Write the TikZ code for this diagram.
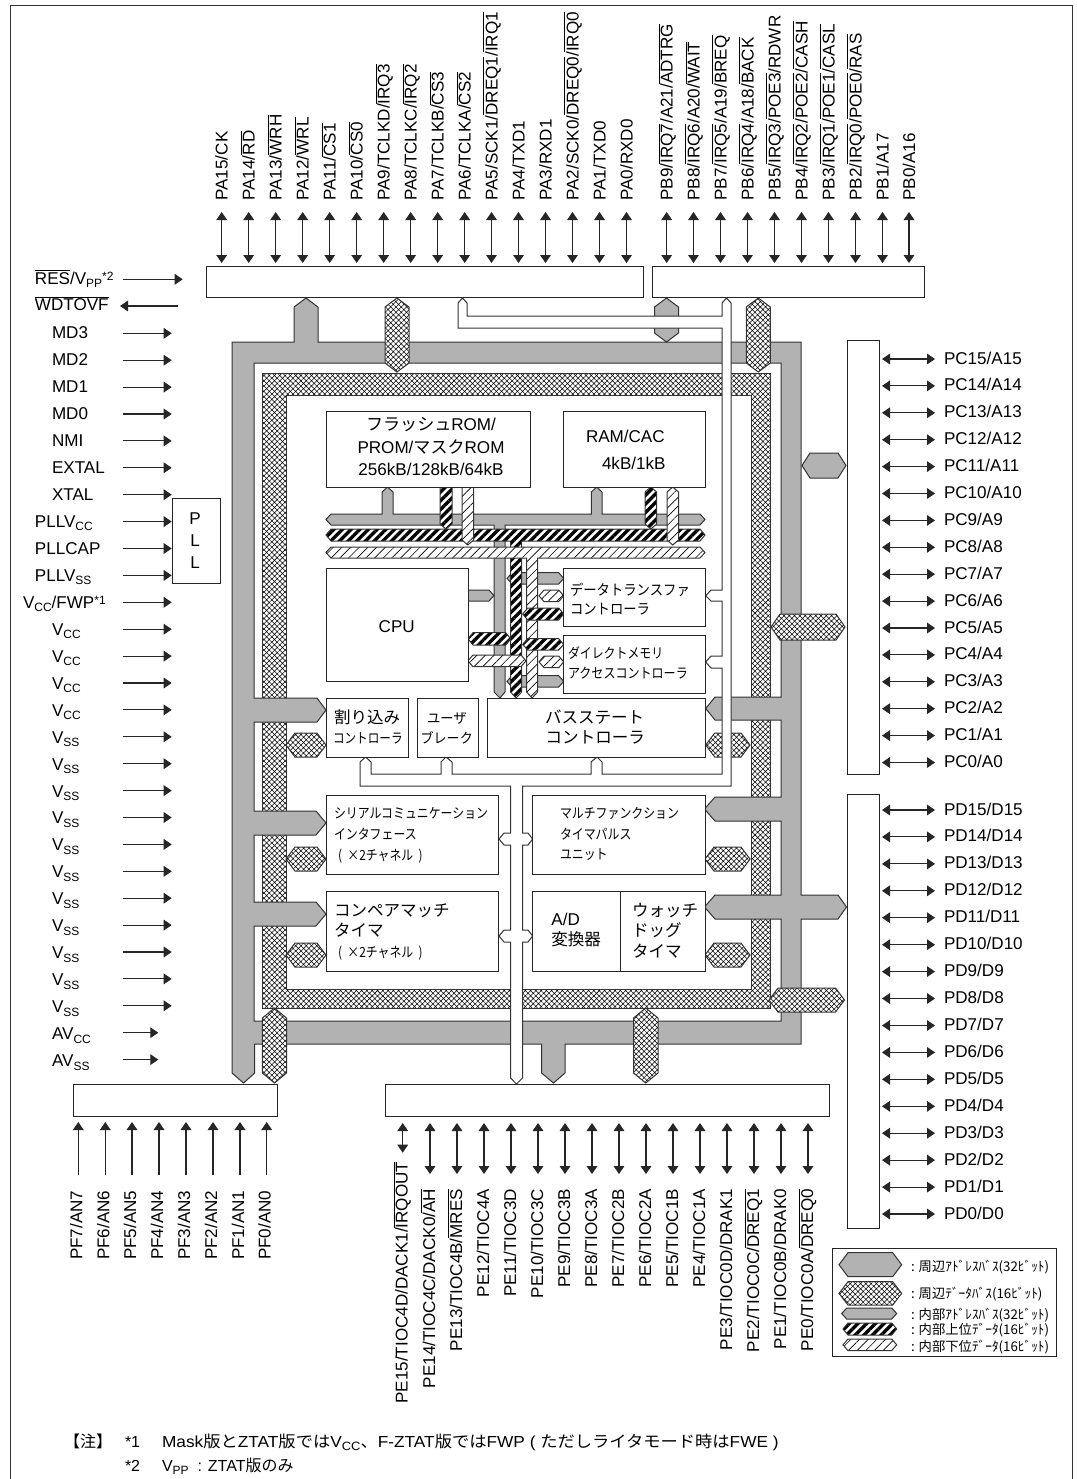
\documentclass[tikz,border=0pt]{standalone}
\usepackage{graphicx}
\usepackage{fontspec}
\setmainfont{Liberation Sans}
\newfontfamily\cjk{Noto Sans CJK JP}
\usetikzlibrary{arrows.meta,patterns.meta}
\definecolor{busgray}{HTML}{B2B2B2}
\definecolor{edge}{HTML}{333333}
\newcommand\J[1]{{\cjk #1}}
% size(pt), horizontal scale, text
\newcommand\jp[3]{\scalebox{#2}[1]{\fontsize{#1}{#1}\selectfont\cjk #3}}
\newcommand\ol[1]{$\overline{\hbox{#1}}$}
\newcommand\subt[1]{\raisebox{-2.6pt}{\fontsize{9}{9}\selectfont #1}}
\newcommand\supt[1]{\raisebox{3pt}{\fontsize{9}{9}\selectfont #1}}
\tikzset{
  x=.75pt,y=-.75pt,
  lw/.style={line width=.75pt},
  graybus/.style={lw,draw=edge,fill=busgray},
  crossbus/.style={lw,draw=edge,preaction={fill=white},pattern={Hatch[angle=45,distance=2.8pt,line width=.4pt]},pattern color=black},
  hibus/.style={lw,draw=edge,preaction={fill=white},pattern={Lines[angle=45,distance=4.6pt,line width=2.5pt]},pattern color=black},
  lobus/.style={lw,draw=edge,preaction={fill=white},pattern={Lines[angle=45,distance=4.6pt,line width=.5pt]},pattern color=black},
  whitebus/.style={lw,draw=edge,fill=white},
  modbox/.style={lw,draw=black!85,fill=white,inner sep=0pt,outer sep=0pt},
  txt/.style={inner sep=0pt,outer sep=0pt,font=\fontsize{12.8}{12.8}\selectfont,anchor=base west},
  vlab/.style={inner sep=0pt,outer sep=0pt,font=\fontsize{12.8}{12.8}\selectfont,rotate=90},
  pinline/.style={line width=.8pt,draw=black!85},
  dbl/.style={{Triangle[length=6pt,width=8pt]}-{Triangle[length=6pt,width=8pt]}},
  sgl/.style={-{Triangle[length=6pt,width=8pt]}},
  rsgl/.style={{Triangle[length=6pt,width=8pt]}-},
}
% module rectangle: name x1 y1 x2 y2
\newcommand\modrect[5]{\node[modbox,minimum width={(#4-#2)*.75pt},minimum height={(#5-#3)*.75pt}] (#1) at ({(#2+#4)/2},{(#3+#5)/2}) {};}
% horizontal hexagon: style x1 x2 y1 y2 notch
\newcommand\hexH[6]{\draw[#1] (#2,{(#4+#5)/2}) -- ({#2+#6},#4) -- ({#3-#6},#4) -- (#3,{(#4+#5)/2}) -- ({#3-#6},#5) -- ({#2+#6},#5) -- cycle;}
% vertical hexagon: style x1 x2 y1 y2 notch
\newcommand\hexV[6]{\draw[#1] ({(#2+#3)/2},#4) -- (#3,{#4+#6}) -- (#3,{#5-#6}) -- ({(#2+#3)/2},#5) -- (#2,{#5-#6}) -- (#2,{#4+#6}) -- cycle;}
% pins
\newcommand\pinA[3]{\coordinate (#1a) at (#2,212); \coordinate (#1b) at (#2,263); \draw[pinline,dbl] (#1a) -- (#1b); \node[vlab,anchor=base west] (#1) at ({#2+6},200.5) {#3};}
\newcommand\pinE[3]{\coordinate (#1a) at (#2,1123); \coordinate (#1b) at (#2,1174); \draw[pinline,dbl] (#1a) -- (#1b); \node[vlab,anchor=base east] (#1) at ({#2+5},1189) {#3};}
\newcommand\pinF[3]{\coordinate (#1a) at (#2,1175); \coordinate (#1b) at (#2,1122); \draw[pinline,sgl] (#1a) -- (#1b); \node[vlab,anchor=base east] (#1) at ({#2+4},1190.7) {#3};}
\newcommand\pinR[3]{\coordinate (#1a) at (882,#2); \coordinate (#1b) at (935,#2); \draw[pinline,dbl] (#1a) -- (#1b); \node[txt] (#1) at (944,{#2+5}) {#3};}
% left pin: name index labelx endx text
\newcommand\pinL[5]{\coordinate (#1a) at (123,{333.3+26.9*#2}); \coordinate (#1b) at (#4,{333.3+26.9*#2}); \draw[pinline,sgl] (#1a) -- (#1b); \node[txt] (#1) at (#3,{338.5+26.97*#2}) {#5};}
\begin{document}
\begin{tikzpicture}
\useasboundingbox (0,0) rectangle (1077,1479);
\fill[white] (0,0) rectangle (1077,1479);
% frame
\draw[lw,draw=black!80] (10,1479) -- (10,5) -- (1072.7,5) -- (1072.7,1479);

% peripheral data ring
\draw[crossbus,even odd rule] (262,373) rectangle (770,1008) (286,395) rectangle (751.5,989);
% peripheral address ring with its branches
\draw[graybus,even odd rule]
 (232,342) -- (294,342) -- (294,307) -- (306,298) -- (318,307) -- (318,342) -- (801,342) -- (801,895) -- (838,895) -- (846.5,907) -- (838,919) -- (801,919) -- (801,1044) -- (565,1044) -- (565,1073) -- (553.5,1083) -- (541.6,1073) -- (541.6,1044) -- (254.7,1044) -- (254.7,1073) -- (243.5,1083) -- (232,1073) -- cycle
 (254,363) -- (781,363) -- (781,697) -- (715,697) -- (705.7,708.5) -- (715,720) -- (781,720) -- (781,797) -- (715,797) -- (704.5,809) -- (715,821) -- (781,821) -- (781,895) -- (715,895) -- (704.5,907) -- (715,919) -- (781,919) -- (781,1021) -- (254,1021) -- (254,926) -- (316,926) -- (326,914) -- (316,902) -- (254,902) -- (254,835) -- (316,835) -- (326,823) -- (316,811) -- (254,811) -- (254,722) -- (317,722) -- (326,710) -- (317,698) -- (254,698) -- cycle;
\hexV{graybus}{654.5}{678.5}{298}{342}{9}
\hexH{graybus}{802}{846}{453}{478}{8}
% peripheral data branches
\hexV{crossbus}{385}{409}{298}{372}{9}
\hexV{crossbus}{746.3}{770.3}{298}{372}{9}
\hexV{crossbus}{262.4}{286.5}{1008}{1083}{10}
\hexV{crossbus}{633.5}{658}{1008}{1083}{10}
\hexH{crossbus}{771}{845}{614}{640}{9}
\hexH{crossbus}{769}{844.5}{988}{1012}{9}
\hexH{crossbus}{286}{326}{733}{757}{9}
\hexH{crossbus}{286}{326}{847}{871}{9}
\hexH{crossbus}{286}{326}{943}{967}{9}
\hexH{crossbus}{705.7}{750}{733}{757}{9}
\hexH{crossbus}{705}{750}{847}{871}{9}
\hexH{crossbus}{705}{750}{943}{967}{9}

% white control bus
\draw[whitebus] (462.5,298) -- (467,303) -- (467,316) -- (722,316) -- (722,303) -- (726.5,298) -- (731,303) -- (731,786) -- (522.5,786) -- (522.5,833) -- (528,833) -- (532.6,839) -- (528,845) -- (522.5,845) -- (522.5,930) -- (528,930) -- (532.6,936) -- (528,942) -- (522.5,942) -- (522.5,1078) -- (516.5,1084) -- (510.6,1078) -- (510.6,942) -- (504,942) -- (499,936) -- (504,930) -- (510.6,930) -- (510.6,845) -- (504,845) -- (499,839) -- (504,833) -- (510.6,833) -- (510.6,786) -- (360,786) -- (360,762) -- (365.6,757) -- (371,762) -- (371,774) -- (441,774) -- (441,762) -- (446,757) -- (452,762) -- (452,774) -- (591,774) -- (591,762) -- (597,757) -- (602,762) -- (602,774) -- (722,774) -- (722,668) -- (711,668) -- (705.7,662) -- (711,656) -- (722,656) -- (722,601) -- (711,601) -- (705.7,595.7) -- (711,590) -- (722,590) -- (722,328) -- (458,328) -- (458,303) -- cycle;

% internal address bus
\draw[graybus] (326,519.5) -- (331,514) -- (382,514) -- (382,492) -- (387.5,487) -- (393,492) -- (393,514) -- (591.4,514) -- (591.4,492) -- (596.7,487) -- (602,492) -- (602,514) -- (700,514) -- (705,519.5) -- (700,525) -- (505,525) -- (505,692) -- (500,698) -- (494,692) -- (494,525) -- (331,525) -- cycle;
\draw[graybus] (468,590) -- (489,590) -- (494,595.5) -- (489,601) -- (468,601) -- cycle;
\hexH{graybus}{507}{563.7}{572.7}{584}{5}
\hexH{graybus}{507}{563.7}{675.7}{687}{5}
% internal high data bus
\draw[hibus] (326,535) -- (331,529) -- (700,529) -- (705,535) -- (700,541) -- (521.7,541) -- (521.7,692) -- (516,698) -- (510.7,692) -- (510.7,541) -- (331,541) -- cycle;
\draw[hibus] (440,487) -- (452,487) -- (452,524) -- (446,529) -- (440,524) -- cycle;
\hexV{hibus}{645}{656.6}{487}{529}{5}
% internal low data bus
\draw[lobus] (326,552.5) -- (331,547) -- (700,547) -- (705,552.5) -- (700,558) -- (537.7,558) -- (537.7,692) -- (532,698) -- (526.7,692) -- (526.7,558) -- (331,558) -- cycle;
\draw[lobus] (462,487) -- (473.6,487) -- (473.6,540) -- (467.8,545) -- (462,540) -- cycle;
\hexV{lobus}{667}{678.5}{487}{545}{5}
% branches to the CPU, DTC and DMAC
\hexH{hibus}{468}{510.7}{632.7}{645}{5}
\hexH{lobus}{468}{526}{655}{666.7}{5}
\hexH{lobus}{539}{563.7}{590}{601.6}{5}
\hexH{hibus}{522.7}{563.7}{608}{620}{5}
\hexH{hibus}{522.7}{563.7}{638.7}{650}{5}
\hexH{lobus}{539}{563.7}{656}{667.7}{5}

% modules
\modrect{rom}{326}{411}{530}{487}
\modrect{ram}{563}{411}{705}{487}
\modrect{cpu}{326}{568}{468}{681}
\modrect{dtc}{563.7}{568}{705.7}{626}
\modrect{dmac}{563.7}{635}{705.7}{693}
\modrect{intc}{326}{698}{408}{757}
\modrect{ubc}{417}{698}{478}{757}
\modrect{bsc}{487}{698}{705.7}{757}
\modrect{sci}{326}{795}{498.4}{874.3}
\modrect{cmt}{326}{891}{498.4}{971}
\modrect{mtu}{532.6}{795}{705.3}{874.3}
\modrect{adc}{532.6}{891}{620}{971}
\modrect{wdt}{620}{891}{705.3}{971}
\modrect{porta}{206}{266}{643}{297}
\modrect{portb}{652.4}{266}{924}{297}
\modrect{portc}{847}{340}{879}{774}
\modrect{portd}{847}{794}{879}{1228}
\modrect{porte}{385}{1084}{829}{1116}
\modrect{portf}{73.3}{1084}{277.3}{1116}
\modrect{pll}{172}{498}{220}{583}

% module texts
\node[txt,anchor=base] (t1) at (431,430) {\jp{12.8}{1}{フラッシュ}ROM/};
\node[txt,anchor=base] (t2) at (431,453) {PROM/\jp{12.8}{1}{マスク}ROM};
\node[txt,anchor=base] (t3) at (431,475) {256kB/128kB/64kB};
\node[txt] (t4) at (586,442) {RAM/CAC};
\node[txt] (t5) at (602,469) {4kB/1kB};
\node[txt,anchor=base] (t6) at (396.7,632.5) {CPU};
\node[txt] (t7) at (570,595) {\jp{11}{.91}{データトランスファ}};
\node[txt] (t8) at (570,614) {\jp{11}{.91}{コントローラ}};
\node[txt] (t9) at (568,658) {\jp{10.5}{.85}{ダイレクトメモリ}};
\node[txt] (t10) at (568,678) {\jp{10.5}{.86}{アクセスコントローラ}};
\node[txt] (t11) at (334,723) {\jp{12.4}{1}{割り込み}};
\node[txt] (t12) at (333,743) {\jp{10.5}{.83}{コントローラ}};
\node[txt] (t13) at (427,723) {\jp{10.5}{.95}{ユーザ}};
\node[txt] (t14) at (420.7,743) {\jp{10.5}{.93}{ブレーク}};
\node[txt] (t15) at (545,723) {\jp{12.4}{1}{バスステート}};
\node[txt] (t16) at (545.7,743) {\jp{12.4}{1}{コントローラ}};
\node[txt] (t17) at (334,818) {\jp{10.5}{.85}{シリアルコミュニケーション}};
\node[txt] (t18) at (334,839) {\jp{10.5}{.85}{インタフェース}};
\node[txt] (t19) at (338,860) {\jp{10.5}{.85}{(\ \ ×2チャネル\ \ )}};
\node[txt] (t20) at (334,916) {\jp{12.4}{1}{コンペアマッチ}};
\node[txt] (t21) at (334,936.5) {\jp{12.4}{1}{タイマ}};
\node[txt] (t22) at (338,957) {\jp{10.5}{.85}{(\ \ ×2チャネル\ \ )}};
\node[txt] (t23) at (560,818) {\jp{10.5}{.85}{マルチファンクション}};
\node[txt] (t24) at (560,839) {\jp{10.5}{.85}{タイマパルス}};
\node[txt] (t25) at (560,859) {\jp{10.5}{.85}{ユニット}};
\node[txt] (t26) at (551.4,925) {A/D};
\node[txt] (t27) at (551.4,945) {\jp{12.4}{1}{変換器}};
\node[txt] (t28) at (632,916) {\jp{12.4}{1}{ウォッチ}};
\node[txt] (t29) at (632,936.5) {\jp{12.4}{1}{ドッグ}};
\node[txt] (t30) at (632,957) {\jp{12.4}{1}{タイマ}};
\node[txt,anchor=base] (t31) at (195,524) {P};
\node[txt,anchor=base] (t32) at (195,546) {L};
\node[txt,anchor=base] (t33) at (195,568) {L};

% port A
\pinA{pa15}{221.7}{PA15/CK}
\pinA{pa14}{248.7}{PA14/\ol{RD}}
\pinA{pa13}{275.7}{PA13/\ol{WRH}}
\pinA{pa12}{302.7}{PA12/\ol{WRL}}
\pinA{pa11}{329.7}{PA11/\ol{CS1}}
\pinA{pa10}{356.7}{PA10/\ol{CS0}}
\pinA{pa9}{383.7}{PA9/TCLKD/\ol{IRQ3}}
\pinA{pa8}{410.7}{PA8/TCLKC/\ol{IRQ2}}
\pinA{pa7}{437.7}{PA7/TCLKB/\ol{CS3}}
\pinA{pa6}{464.7}{PA6/TCLKA/\ol{CS2}}
\pinA{pa5}{491.5}{PA5/SCK1/\ol{DREQ1}/\ol{IRQ1}}
\pinA{pa4}{518.5}{PA4/TXD1}
\pinA{pa3}{545.5}{PA3/RXD1}
\pinA{pa2}{572.5}{PA2/SCK0/\ol{DREQ0}/\ol{IRQ0}}
\pinA{pa1}{599.5}{PA1/TXD0}
\pinA{pa0}{626.5}{PA0/RXD0}
% port B
\pinA{pb9}{666.7}{PB9/\ol{IRQ7}/A21/\ol{ADTRG}}
\pinA{pb8}{693.5}{PB8/\ol{IRQ6}/A20/\ol{WAIT}}
\pinA{pb7}{720.5}{PB7/\ol{IRQ5}/A19/\ol{BREQ}}
\pinA{pb6}{747.5}{PB6/\ol{IRQ4}/A18/\ol{BACK}}
\pinA{pb5}{774.5}{PB5/\ol{IRQ3}/\ol{POE3}/RDWR}
\pinA{pb4}{801.5}{PB4/\ol{IRQ2}/\ol{POE2}/\ol{CASH}}
\pinA{pb3}{828.5}{PB3/\ol{IRQ1}/\ol{POE1}/\ol{CASL}}
\pinA{pb2}{855.5}{PB2/\ol{IRQ0}/\ol{POE0}/\ol{RAS}}
\pinA{pb1}{882.5}{PB1/A17}
\pinA{pb0}{909}{PB0/A16}
% port C
\pinR{pc15}{359}{PC15/A15}
\pinR{pc14}{385.9}{PC14/A14}
\pinR{pc13}{412.8}{PC13/A13}
\pinR{pc12}{439.7}{PC12/A12}
\pinR{pc11}{466.6}{PC11/A11}
\pinR{pc10}{493.5}{PC10/A10}
\pinR{pc9}{520.4}{PC9/A9}
\pinR{pc8}{547.3}{PC8/A8}
\pinR{pc7}{574.2}{PC7/A7}
\pinR{pc6}{601.1}{PC6/A6}
\pinR{pc5}{628}{PC5/A5}
\pinR{pc4}{654.9}{PC4/A4}
\pinR{pc3}{681.8}{PC3/A3}
\pinR{pc2}{708.7}{PC2/A2}
\pinR{pc1}{735.6}{PC1/A1}
\pinR{pc0}{762.5}{PC0/A0}
% port D
\pinR{pd15}{810}{PD15/D15}
\pinR{pd14}{836.9}{PD14/D14}
\pinR{pd13}{863.9}{PD13/D13}
\pinR{pd12}{890.8}{PD12/D12}
\pinR{pd11}{917.7}{PD11/D11}
\pinR{pd10}{944.7}{PD10/D10}
\pinR{pd9}{971.6}{PD9/D9}
\pinR{pd8}{998.5}{PD8/D8}
\pinR{pd7}{1025.5}{PD7/D7}
\pinR{pd6}{1052.4}{PD6/D6}
\pinR{pd5}{1079.3}{PD5/D5}
\pinR{pd4}{1106.3}{PD4/D4}
\pinR{pd3}{1133.2}{PD3/D3}
\pinR{pd2}{1160.1}{PD2/D2}
\pinR{pd1}{1187.1}{PD1/D1}
\pinR{pd0}{1214}{PD0/D0}
% port E
\coordinate (pe15a) at (402.7,1123); \coordinate (pe15b) at (402.7,1152.7);
\draw[pinline,dbl] (pe15a) -- (pe15b);
\node[vlab,anchor=base east] (pe15) at (407.7,1161.7) {PE15/TIOC4D/DACK1/\ol{IRQOUT}};
\pinE{pe14}{430}{PE14/TIOC4C/DACK0/\ol{AH}}
\pinE{pe13}{457}{PE13/TIOC4B/\ol{MRES}}
\pinE{pe12}{484}{PE12/TIOC4A}
\pinE{pe11}{511}{PE11/TIOC3D}
\pinE{pe10}{538}{PE10/TIOC3C}
\pinE{pe9}{565}{PE9/TIOC3B}
\pinE{pe8}{592}{PE8/TIOC3A}
\pinE{pe7}{619}{PE7/TIOC2B}
\pinE{pe6}{646}{PE6/TIOC2A}
\pinE{pe5}{673}{PE5/TIOC1B}
\pinE{pe4}{700}{PE4/TIOC1A}
\pinE{pe3}{727}{PE3/TIOC0D/DRAK1}
\pinE{pe2}{754}{PE2/TIOC0C/\ol{DREQ1}}
\pinE{pe1}{781}{PE1/TIOC0B/DRAK0}
\pinE{pe0}{808}{PE0/TIOC0A/\ol{DREQ0}}
% port F
\pinF{pf7}{78.3}{PF7/AN7}
\pinF{pf6}{105.3}{PF6/AN6}
\pinF{pf5}{132}{PF5/AN5}
\pinF{pf4}{159}{PF4/AN4}
\pinF{pf3}{186}{PF3/AN3}
\pinF{pf2}{213}{PF2/AN2}
\pinF{pf1}{240}{PF1/AN1}
\pinF{pf0}{266.7}{PF0/AN0}
% left side pins
\coordinate (resa) at (123,279.3); \coordinate (resb) at (182.7,279.3);
\draw[pinline,sgl] (resa) -- (resb);
\node[txt] (res) at (35,284) {\ol{RES}/V\subt{PP}\supt{*2}};
\coordinate (wdta) at (178,306); \coordinate (wdtb) at (120,306);
\draw[pinline,sgl] (wdta) -- (wdtb);
\node[txt] (wdtovf) at (35,310.7) {\ol{WDTOVF}};
\pinL{md3}{0}{52}{171.7}{MD3}
\pinL{md2}{1}{52}{171.7}{MD2}
\pinL{md1}{2}{52}{171.7}{MD1}
\pinL{md0}{3}{52}{171.7}{MD0}
\pinL{nmi}{4}{52}{171.7}{NMI}
\pinL{extal}{5}{52}{171.7}{EXTAL}
\pinL{xtal}{6}{52}{171.7}{XTAL}
\pinL{pllvcc}{7}{35}{171.7}{PLLV\subt{CC}}
\pinL{pllcap}{8}{35}{171.7}{PLLCAP}
\pinL{pllvss}{9}{35}{171.7}{PLLV\subt{SS}}
\pinL{vccfwp}{10}{23}{171.7}{V\subt{CC}/FWP\supt{*1}}
\pinL{vcca}{11}{52}{171.7}{V\subt{CC}}
\pinL{vccb}{12}{52}{171.7}{V\subt{CC}}
\pinL{vccc}{13}{52}{171.7}{V\subt{CC}}
\pinL{vccd}{14}{52}{171.7}{V\subt{CC}}
\pinL{vssa}{15}{52}{171.7}{V\subt{SS}}
\pinL{vssb}{16}{52}{171.7}{V\subt{SS}}
\pinL{vssc}{17}{52}{171.7}{V\subt{SS}}
\pinL{vssd}{18}{52}{171.7}{V\subt{SS}}
\pinL{vsse}{19}{52}{171.7}{V\subt{SS}}
\pinL{vssf}{20}{52}{171.7}{V\subt{SS}}
\pinL{vssg}{21}{52}{171.7}{V\subt{SS}}
\pinL{vssh}{22}{52}{171.7}{V\subt{SS}}
\pinL{vssi}{23}{52}{171.7}{V\subt{SS}}
\pinL{vssj}{24}{52}{171.7}{V\subt{SS}}
\pinL{vssk}{25}{52}{171.7}{V\subt{SS}}
\pinL{avcc}{26}{52}{158.3}{AV\subt{CC}}
\pinL{avss}{27}{52}{158.3}{AV\subt{SS}}

% legend
\modrect{legend}{832.3}{1248}{1056}{1356.7}
\hexH{graybus}{839}{901.7}{1252.7}{1276.7}{9}
\hexH{crossbus}{839}{901.7}{1281.7}{1305}{9}
\hexH{graybus}{841.7}{896.7}{1308}{1319}{5}
\hexH{hibus}{843}{896.7}{1323}{1335}{5}
\hexH{lobus}{843}{896.7}{1339}{1350.6}{5}
\node[txt] (l1) at (911,1271.5) {\jp{10}{1}{: 周辺ｱﾄﾞﾚｽﾊﾞｽ(32ﾋﾞｯﾄ)}};
\node[txt] (l2) at (911,1298.5) {\jp{10}{1}{: 周辺ﾃﾞｰﾀﾊﾞｽ(16ﾋﾞｯﾄ)}};
\node[txt] (l3) at (911,1319.5) {\jp{10}{1}{: 内部ｱﾄﾞﾚｽﾊﾞｽ(32ﾋﾞｯﾄ)}};
\node[txt] (l4) at (911,1334.5) {\jp{10}{1}{: 内部上位ﾃﾞｰﾀ(16ﾋﾞｯﾄ)}};
\node[txt] (l5) at (911,1351.5) {\jp{10}{1}{: 内部下位ﾃﾞｰﾀ(16ﾋﾞｯﾄ)}};

% notes
\tikzset{notetxt/.style={txt,font=\fontsize{12}{12}\selectfont}}
\node[notetxt] (n1) at (64,1447) {\J{【注】}};
\node[notetxt] (n2) at (125,1447) {*1};
\node[notetxt] (n3) at (162,1447) {\scalebox{1.08}[1]{Mask\J{版と}ZTAT\J{版では}V\subt{CC}\J{、}F-ZTAT\J{版では}FWP ( \J{ただしライタモード時は}FWE )}};
\node[notetxt] (n4) at (125,1471) {*2};
\node[notetxt] (n5) at (162,1471) {V\subt{PP}\ \ : ZTAT\J{版のみ}};
\end{tikzpicture}
\end{document}
